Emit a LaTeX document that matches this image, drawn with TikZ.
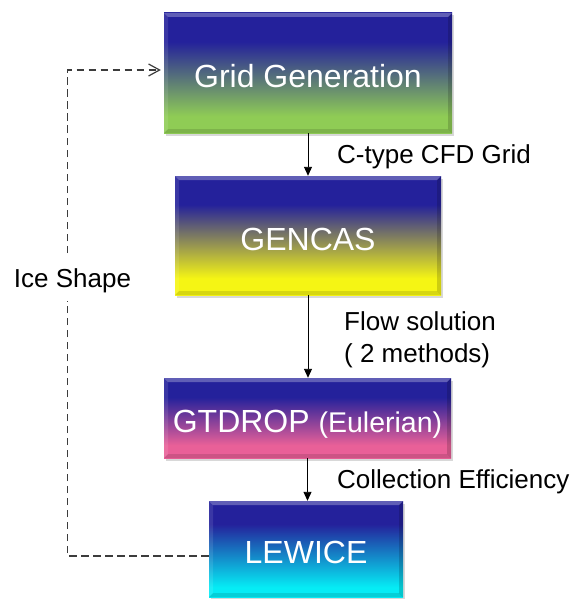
\documentclass[tikz,border=0pt]{standalone}
\usepackage{fontspec}
\setmainfont{Liberation Sans}
\usetikzlibrary{arrows.meta,shadows}

\definecolor{topblue}{RGB}{36,33,155}
\definecolor{botgreen}{RGB}{143,204,85}
\definecolor{botyellow}{RGB}{245,245,20}
\definecolor{botpink}{RGB}{233,96,152}
\definecolor{botcyan}{RGB}{5,236,245}
\definecolor{loopgray}{RGB}{60,60,60}

\pgfdeclareverticalshading{shgreen}{100bp}{color(0bp)=(botgreen); color(32bp)=(botgreen); color(63bp)=(topblue); color(100bp)=(topblue)}
\pgfdeclareverticalshading{shyellow}{100bp}{color(0bp)=(botyellow); color(32bp)=(botyellow); color(63bp)=(topblue); color(100bp)=(topblue)}
\pgfdeclareverticalshading{shpink}{100bp}{color(0bp)=(botpink); color(33bp)=(botpink); color(63bp)=(topblue); color(100bp)=(topblue)}
\pgfdeclareverticalshading{shcyan}{100bp}{color(0bp)=(botcyan); color(30bp)=(botcyan); color(63bp)=(topblue); color(100bp)=(topblue)}

\tikzset{
  procbox/.style={rectangle, inner sep=0pt, text=white,
    font=\fontsize{32}{38}\selectfont, text height=29pt, text depth=0pt,
    drop shadow={shadow xshift=2pt, shadow yshift=-2.5pt, opacity=0.3, fill=gray},
    path picture={
      \fill[white,opacity=0.28] (path picture bounding box.north west) -- (path picture bounding box.north east)
        -- ([xshift=-4pt,yshift=-4pt]path picture bounding box.north east) -- ([xshift=4pt,yshift=-4pt]path picture bounding box.north west) -- cycle;
      \fill[black,opacity=0.12] (path picture bounding box.south west) -- (path picture bounding box.south east)
        -- ([xshift=-4pt,yshift=4pt]path picture bounding box.south east) -- ([xshift=4pt,yshift=4pt]path picture bounding box.south west) -- cycle;
      \fill[white,opacity=0.10] (path picture bounding box.north west) -- (path picture bounding box.south west)
        -- ([xshift=4pt,yshift=4pt]path picture bounding box.south west) -- ([xshift=4pt,yshift=-4pt]path picture bounding box.north west) -- cycle;
      \fill[black,opacity=0.16] (path picture bounding box.north east) -- (path picture bounding box.south east)
        -- ([xshift=-4pt,yshift=4pt]path picture bounding box.south east) -- ([xshift=-4pt,yshift=-4pt]path picture bounding box.north east) -- cycle;
    }},
  flow/.style={-{Triangle[length=9pt,width=8pt]}, line width=0.9pt, draw=black},
  loopline/.style={dash pattern=on 7.5pt off 4.5pt, line width=1.35pt, draw=loopgray},
  lbl/.style={font=\fontsize{26}{32}\selectfont, inner sep=0pt, text=black}
}

\begin{document}
\begin{tikzpicture}[x=1pt,y=-1pt]
\useasboundingbox[fill=white] (0,0) rectangle (571,599);

\node[procbox, shading=shgreen, minimum width=288pt, minimum height=120pt] (b1) at (308,73) {Grid Generation};
\node[procbox, shading=shyellow, minimum width=266pt, minimum height=119pt] (b2) at (308,235.5) {GENCAS};
\node[procbox, shading=shpink, minimum width=287pt, minimum height=80pt] (b3) at (307.5,418) {GTDROP {\fontsize{28.5}{34}\selectfont(Eulerian)}};
\node[procbox, shading=shcyan, minimum width=194pt, minimum height=96pt] (b4) at (306,549) {LEWICE};

\draw[flow] (b1.south) -- (b1.south |- b2.north);
\draw[flow] (b2.south) -- (b2.south |- b3.north);
\draw[flow] (b3.south) -- (b3.south |- b4.north);

\node[lbl, anchor=west] (l1) at (337,157) {C-type CFD Grid};
\node[lbl, anchor=west, align=left] (l2) at (344,340) {Flow solution\\( 2 methods)};
\node[lbl, anchor=west] (l3) at (337,482) {Collection Efficiency};
\node[lbl] (ice) at (72.5,281) {Ice Shape};

\coordinate (lbot) at (67.7,556);
\coordinate (gapbot) at (67.7,301);
\coordinate (gaptop) at (67.7,253);
\coordinate (ltop) at (67.7,70);
\draw[loopline] ([yshift=-7pt]b4.west) -- (lbot) -- (gapbot);
\draw[loopline, -{Straight Barb[length=11pt,width=12pt,line width=1.2pt]}, shorten >=3pt] (gaptop) -- (ltop) -- ([yshift=3pt]b1.west);
\end{tikzpicture}
\end{document}
